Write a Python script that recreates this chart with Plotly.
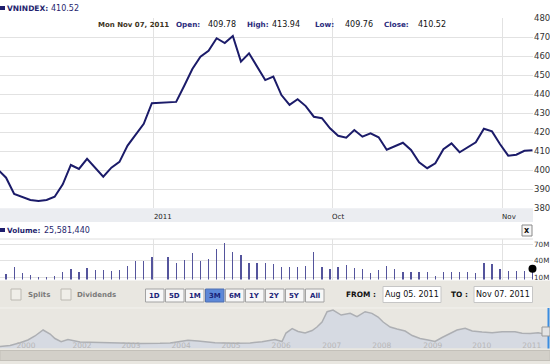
import plotly.graph_objects as go

# ---------------- data ----------------
dates = [
    "2011-08-05", "2011-08-08", "2011-08-09", "2011-08-10", "2011-08-11", "2011-08-12",
    "2011-08-15", "2011-08-16", "2011-08-17", "2011-08-18", "2011-08-19",
    "2011-08-22", "2011-08-23", "2011-08-24", "2011-08-25", "2011-08-26",
    "2011-08-29", "2011-08-30", "2011-08-31",
    "2011-09-01", "2011-09-05", "2011-09-06", "2011-09-07", "2011-09-08", "2011-09-09",
    "2011-09-12", "2011-09-13", "2011-09-14", "2011-09-15", "2011-09-16",
    "2011-09-19", "2011-09-20", "2011-09-21", "2011-09-22", "2011-09-23",
    "2011-09-26", "2011-09-27", "2011-09-28", "2011-09-29", "2011-09-30",
    "2011-10-03", "2011-10-04", "2011-10-05", "2011-10-06", "2011-10-07",
    "2011-10-10", "2011-10-11", "2011-10-12", "2011-10-13", "2011-10-14",
    "2011-10-17", "2011-10-18", "2011-10-19", "2011-10-20", "2011-10-21",
    "2011-10-24", "2011-10-25", "2011-10-26", "2011-10-27", "2011-10-28",
    "2011-10-31", "2011-11-01", "2011-11-02", "2011-11-03", "2011-11-04", "2011-11-07",
]
close = [
    400.4, 396.1, 387.5, 385.8, 384.4, 383.8,
    384.4, 386.1, 392.6, 402.8, 400.7,
    406.0, 401.4, 396.6, 401.4, 404.4,
    413.0, 418.9, 424.5,
    435.3, 435.6, 436.0, 444.5, 453.3, 459.8,
    462.9, 469.5, 467.0, 470.7, 457.2,
    461.6, 454.5, 447.5, 449.3, 439.6,
    434.4, 437.4, 433.8, 428.2, 427.4,
    422.1, 418.2, 417.2, 421.2, 417.7,
    419.5, 417.4, 410.8, 412.8, 414.5,
    410.7, 404.2, 401.1, 403.7, 411.1,
    414.2, 409.5, 412.1, 414.7, 421.9,
    420.5, 413.7, 407.7, 408.2, 410.3, 410.52,
]
volume_millions = [
    18.0, 16.0, 29.2, 17.3, 13.7, 11.2,
    11.2, 12.4, 19.6, 24.5, 20.2,
    26.3, 23.2, 23.2, 21.4, 23.2,
    30.5, 38.9, 39.5,
    46.1, 47.2, 36.4, 40.7, 53.3, 40.0,
    42.5, 61.1, 72.4, 55.7, 50.3,
    35.3, 36.4, 35.3, 33.5, 29.2,
    28.1, 28.1, 30.5, 55.7, 28.1,
    25.6, 28.1, 32.3, 26.8, 25.6,
    18.4, 23.2, 30.5, 24.5, 19.1,
    19.1, 20.2, 20.2, 12.4, 20.2,
    20.2, 20.2, 20.2, 17.3, 35.3,
    34.1, 25.0, 21.4, 21.4, 21.4, 25.58144,
]
last_volume_text = "25,581,440"
last_date_text = "Mon Nov 07, 2011"
ohlc_labels = ["Open:", "High:", "Low:", "Close:"]
ohlc_values = ["409.78", "413.94", "409.76", "410.52"]

price_ticks = [380, 390, 400, 410, 420, 430, 440, 450, 460, 470, 480]
month_tick_dates = ["2011-09-01 06:00", "2011-10-03 06:00", "2011-11-01 06:00"]
month_tick_labels = ["2011", "Oct", "Nov"]
vol_ticks = [10, 40, 70]
vol_tick_labels = ["10M", "40M", "70M"]

# navigator: full history (session index, index value)
nav_session = [0, 46, 91, 127, 159, 182, 196, 228, 250, 278, 309, 364, 455, 546, 637, 728,
               774, 819, 855, 901, 978, 1069, 1138, 1192, 1251, 1283, 1301, 1329, 1356,
               1388, 1420, 1442, 1465, 1488, 1515, 1552, 1593, 1624, 1661, 1692, 1720,
               1743, 1775, 1806, 1843, 1875, 1911, 1947, 1979, 2011, 2048, 2079, 2116,
               2148, 2193, 2239, 2284, 2343, 2375, 2412, 2448, 2480, 2498]
nav_value = [56, 86, 173, 256, 380, 503, 565, 441, 302, 204, 272, 194, 173, 154, 148, 154,
             164, 210, 250, 225, 170, 157, 164, 204, 272, 210, 472, 611, 519,
             472, 549, 657, 812, 1130, 1182, 1028, 1080, 975, 1130, 1080, 966,
             812, 657, 596, 534, 395, 302, 256, 210, 333, 463, 565, 617,
             534, 503, 481, 512, 512, 463, 457, 478, 426, 410]
nav_year_pos = [118, 373, 596, 824, 1051, 1279, 1509, 1737, 1969, 2192, 2419]
nav_year_labels = ["2000", "2002", "2003", "2004", "2005", "2006", "2007", "2008", "2009", "2010", "2011"]

range_buttons = ["1D", "5D", "1M", "3M", "6M", "1Y", "2Y", "5Y", "All"]
selected_button = "3M"
from_text = "Aug 05. 2011"
to_text = "Nov 07. 2011"

# ---------------- helpers ----------------
W, H = 550, 364
def X(px):
    return px / W
def Y(py):
    return 1 - py / H

FONT = "DejaVu Sans"
NAVY = "#1f1f6e"

fig = go.Figure()

fig.add_trace(go.Scatter(
    x=dates, y=close, mode="lines", xaxis="x", yaxis="y",
    line=dict(color="#1b1b69", width=2), hoverinfo="skip", showlegend=False,
))
fig.add_trace(go.Bar(
    x=dates, y=volume_millions, xaxis="x2", yaxis="y2",
    marker=dict(color="#54549c", line=dict(width=0)),
    width=0.16 * 86400000, hoverinfo="skip", showlegend=False,
))
fig.add_trace(go.Scatter(
    x=[dates[-1]], y=[volume_millions[-1]], mode="markers", xaxis="x2", yaxis="y2",
    marker=dict(color="black", size=8), cliponaxis=False, hoverinfo="skip", showlegend=False,
))
fig.add_trace(go.Scatter(
    x=nav_session, y=nav_value, mode="lines", xaxis="x3", yaxis="y3",
    fill="tozeroy", fillcolor="#d6dae2", line=dict(color="#adafb3", width=1.5),
    hoverinfo="skip", showlegend=False,
))

x_range = ["2011-08-05 06:00", "2011-11-07 01:30"]
grid = "#e2e2e2"
common_x = dict(
    type="date", range=x_range, rangebreaks=[dict(bounds=["sat", "mon"])],
    tickmode="array", tickvals=month_tick_dates, ticktext=month_tick_labels,
    showgrid=True, gridcolor=grid, gridwidth=1, zeroline=False, showline=False, ticks="",
    domain=[0, X(533)], fixedrange=True,
)

shapes = []
annotations = []

def rect(x0, y0, x1, y1, fill, line=None, lw=1, layer="below"):
    shapes.append(dict(type="rect", xref="paper", yref="paper",
                       x0=X(x0), x1=X(x1), y0=Y(y1), y1=Y(y0),
                       fillcolor=fill, layer=layer,
                       line=dict(color=line or fill, width=lw if line else 0)))

def hline(x0, x1, y, color, w=1, layer="below"):
    shapes.append(dict(type="line", xref="paper", yref="paper",
                       x0=X(x0), x1=X(x1), y0=Y(y), y1=Y(y),
                       line=dict(color=color, width=w), layer=layer))

def vline(x, y0, y1, color, w=1, layer="above"):
    shapes.append(dict(type="line", xref="paper", yref="paper",
                       x0=X(x), x1=X(x), y0=Y(y0), y1=Y(y1),
                       line=dict(color=color, width=w), layer=layer))

def text(s, x, y, size=8, color="#111", bold=False, anchor="left"):
    annotations.append(dict(text=("<b>%s</b>" % s) if bold else s, x=X(x), y=Y(y),
                            xref="paper", yref="paper", xanchor=anchor, yanchor="middle",
                            showarrow=False, borderpad=0,
                            font=dict(family=FONT, size=size, color=color)))

# backgrounds
rect(0, 280.5, 550, 364, "#e9e7e1")
rect(0, 208.3, 533, 222, "#ebedf1")
hline(0, 533, 239, "#dedede")
hline(0, 550, 308, "#f3f2ee")

# header
rect(0, 6, 5, 10, NAVY, layer="above")
text("VNINDEX:", 5.5, 8.5, size=7.5, color=NAVY, bold=True)
text(ohlc_values[3], 49.5, 8.5, size=8, color=NAVY)

# info row
text(last_date_text, 96.5, 25, size=7.0, color="#3d3422", bold=True)
lab_x = [175, 246, 314, 383]
val_x = [207, 270.5, 344, 417]
for lab, val, lx, vx in zip(ohlc_labels, ohlc_values, lab_x, val_x):
    text(lab, lx, 25, size=7.2, color="#2b2b7c", bold=True)
    text(val, vx, 25, size=8, color="#111")

# volume header
rect(0, 228, 5, 232, NAVY, layer="above")
text("Volume:", 5.5, 230.5, size=7.3, color=NAVY, bold=True)
text(last_volume_text, 42.5, 230.5, size=8, color=NAVY)

# close box
rect(522, 225, 532, 236, "#f6f6f6", line="#8a8a8a", layer="above")
text("x", 527, 230.3, size=8, color="#111", bold=True, anchor="center")

# checkboxes
rect(11, 289, 21, 300, "#f0eee9", line="#bcb9b2", layer="above")
text("Splits", 26.5, 294.5, size=7, color="#7a7a7a", bold=True)
rect(61, 289, 71, 300, "#f0eee9", line="#bcb9b2", layer="above")
text("Dividends", 75.5, 294.5, size=7, color="#7a7a7a", bold=True)

# range buttons
for i, b in enumerate(range_buttons):
    x0 = 145.5 + 20 * i
    sel = (b == selected_button)
    rect(x0, 289, x0 + 18.5, 302, "#5d88d8" if sel else "#f7f7f7",
         line="#5070b0" if sel else "#a3a3a3", layer="above")
    text(b, x0 + 9.25, 295.7, size=7, color="#1a2378", bold=True, anchor="center")

# from / to
text("FROM :", 344.5, 294.5, size=7.4, color="#111", bold=True)
rect(383, 286.5, 441, 302.5, "#ffffff", line="#c6c6c6", layer="above")
text(from_text, 412, 294.7, size=8, color="#111", anchor="center")
text("TO :", 449.5, 294.5, size=7.4, color="#111", bold=True)
rect(474, 286.5, 532.5, 302.5, "#ffffff", line="#c6c6c6", layer="above")
text(to_text, 503.2, 294.7, size=8, color="#111", anchor="center")

# navigator scrollbar & handle
rect(0, 350.5, 550, 360.5, "#d3d0c9", line="#c3c0b9", layer="above")
vline(548.5, 308, 348.5, "#3b8de0", w=2)
rect(542, 327, 550, 336, "#e4e4e4", line="#999999", layer="above")

fig.update_layout(
    width=W, height=H,
    margin=dict(l=0, r=0, t=0, b=0),
    paper_bgcolor="white", plot_bgcolor="rgba(0,0,0,0)",
    hovermode=False, showlegend=False, bargap=0,
    font=dict(family=FONT, size=8, color="#333"),
    xaxis=dict(anchor="y", ticklabelposition="outside right", ticklabelstandoff=3,
               tickfont=dict(family=FONT, size=7, color="#222"), **common_x),
    yaxis=dict(anchor="x", domain=[Y(208.3), Y(18.3)], range=[380, 480], side="right",
               tickmode="array", tickvals=price_ticks, showgrid=True, gridcolor=grid,
               zeroline=False, showline=False, ticks="", automargin=False, fixedrange=True,
               tickfont=dict(family=FONT, size=8.5, color="#333")),
    xaxis2=dict(anchor="y2", showticklabels=False, **common_x),
    yaxis2=dict(anchor="x2", domain=[Y(279.5), Y(239)], range=[6.1, 79.1], side="right",
                tickmode="array", tickvals=vol_ticks, ticktext=vol_tick_labels,
                showgrid=True, gridcolor=grid, zeroline=False, showline=False, ticks="",
                automargin=False, fixedrange=True,
                tickfont=dict(family=FONT, size=7.2, color="#333")),
    xaxis3=dict(anchor="y3", domain=[0, 1], range=[0, 2502], tickmode="array",
                tickvals=nav_year_pos, ticktext=nav_year_labels, ticklabelposition="inside",
                showgrid=False, zeroline=False, showline=False, ticks="", fixedrange=True,
                tickfont=dict(family=FONT, size=7.5, color="#b6b6b6")),
    yaxis3=dict(anchor="x3", domain=[Y(352.5), Y(308)], range=[-130, 1245], visible=False,
                fixedrange=True),
    shapes=shapes, annotations=annotations,
)

fig.write_html(
    "out.html",
    config={"displayModeBar": False, "staticPlot": True},
    post_script="document.body.style.margin='0';document.body.style.padding='0';document.body.style.overflow='hidden';",
)
